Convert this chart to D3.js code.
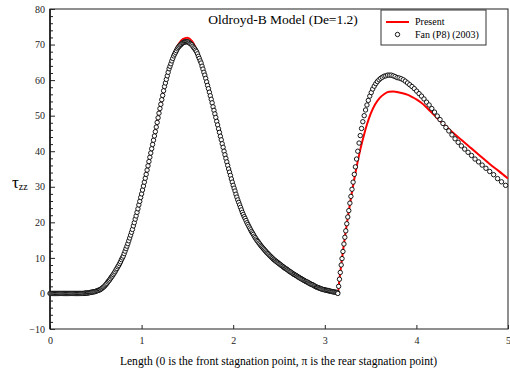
<!DOCTYPE html>
<html>
<head>
<meta charset="utf-8">
<script src="https://cdn.jsdelivr.net/npm/d3@7/dist/d3.min.js"></script>
<style>
  html, body { margin: 0; padding: 0; background: #fff; }
  svg { display: block; font-family: "Liberation Serif", "Times New Roman", serif; }
</style>
</head>
<body>
<svg id="chart" width="510" height="374"></svg>
<script>
// Axis ticks
const xTicks = [0, 1, 2, 3, 4, 5];
const yTicks = [-10, 0, 10, 20, 30, 40, 50, 60, 70, 80];
const yMinorTicks = [-8, -6, -4, -2, 2, 4, 6, 8, 12, 14, 16, 18, 22, 24, 26, 28, 32, 34, 36, 38,
  42, 44, 46, 48, 52, 54, 56, 58, 62, 64, 66, 68, 72, 74, 76, 78];

// Fan (P8) (2003): nodes on the cylinder surface (0 .. pi)
const fanCylX = [
  0.00,0.01,0.02,0.03,0.04,0.05,0.06,0.07,0.08,0.09,
  0.10,0.11,0.12,0.13,0.14,0.15,0.16,0.17,0.18,0.19,
  0.20,0.21,0.22,0.23,0.24,0.25,0.26,0.27,0.28,0.29,
  0.30,0.31,0.32,0.33,0.34,0.35,0.36,0.37,0.38,0.39,
  0.40,0.41,0.42,0.43,0.44,0.45,0.46,0.47,0.48,0.49,
  0.50,0.51,0.52,0.53,0.54,0.55,0.56,0.57,0.58,0.59,
  0.60,0.61,0.62,0.63,0.64,0.65,0.66,0.67,0.68,0.69,
  0.70,0.71,0.72,0.73,0.74,0.75,0.76,0.77,0.78,0.79,
  0.80,0.81,0.82,0.83,0.84,0.85,0.86,0.87,0.88,0.89,
  0.90,0.91,0.92,0.93,0.94,0.95,0.96,0.97,0.98,0.99,
  1.00,1.01,1.02,1.03,1.04,1.05,1.06,1.07,1.08,1.09,
  1.10,1.11,1.12,1.13,1.14,1.15,1.16,1.17,1.18,1.19,
  1.20,1.21,1.22,1.23,1.24,1.25,1.26,1.27,1.28,1.29,
  1.30,1.31,1.32,1.33,1.34,1.35,1.36,1.37,1.38,1.39,
  1.40,1.41,1.42,1.43,1.44,1.45,1.46,1.47,1.48,1.49,
  1.50,1.51,1.52,1.53,1.54,1.55,1.56,1.57,1.58,1.59,
  1.60,1.61,1.62,1.63,1.64,1.65,1.66,1.67,1.68,1.69,
  1.70,1.71,1.72,1.73,1.74,1.75,1.76,1.77,1.78,1.79,
  1.80,1.81,1.82,1.83,1.84,1.85,1.86,1.87,1.88,1.89,
  1.90,1.91,1.92,1.93,1.94,1.95,1.96,1.97,1.98,1.99,
  2.00,2.01,2.02,2.03,2.04,2.05,2.06,2.07,2.08,2.09,
  2.10,2.11,2.12,2.13,2.14,2.15,2.16,2.17,2.18,2.19,
  2.20,2.21,2.22,2.23,2.24,2.25,2.26,2.27,2.28,2.29,
  2.30,2.31,2.32,2.33,2.34,2.35,2.36,2.37,2.38,2.39,
  2.40,2.41,2.42,2.43,2.44,2.45,2.46,2.47,2.48,2.49,
  2.50,2.51,2.52,2.53,2.54,2.55,2.56,2.57,2.58,2.59,
  2.60,2.61,2.62,2.63,2.64,2.65,2.66,2.67,2.68,2.69,
  2.70,2.71,2.72,2.73,2.74,2.75,2.76,2.77,2.78,2.79,
  2.80,2.81,2.82,2.83,2.84,2.85,2.86,2.87,2.88,2.89,
  2.90,2.91,2.92,2.93,2.94,2.95,2.96,2.97,2.98,2.99,
  3.00,3.01,3.02,3.03,3.04,3.05,3.06,3.07,3.08,3.09,
  3.10,3.11,3.12,3.13,3.14
];
const fanCylTau = [
  0,0,0,0,0,0,0,0,0,0,
  0,0,0,0,0,0,0,0,0,0,
  0,0,0,0,0,0,0,0,0,0,
  0,0,0,0,0,0,0,0,0.1,0.1,
  0.1,0.1,0.2,0.2,0.3,0.3,0.4,0.4,0.5,0.5,
  0.6,0.7,0.8,0.9,1.0,1.1,1.3,1.5,1.7,1.9,
  2.2,2.5,2.8,3.2,3.5,3.8,4.2,4.6,4.9,5.3,
  5.7,6.1,6.6,7.0,7.5,7.9,8.4,8.9,9.5,10.0,
  10.5,11.2,11.9,12.6,13.3,14.0,14.8,15.6,16.4,17.2,
  18.0,19.0,19.9,20.9,21.8,22.8,23.8,24.9,25.9,27.0,
  28.0,29.1,30.2,31.3,32.4,33.5,34.7,35.9,37.1,38.3,
  39.5,40.7,41.9,43.1,44.3,45.5,46.8,48.1,49.4,50.7,
  52.0,53.2,54.5,55.7,57.0,58.2,59.2,60.2,61.2,62.2,
  63.2,63.9,64.6,65.4,66.1,66.8,67.3,67.8,68.3,68.8,
  69.2,69.5,69.8,70.0,70.3,70.5,70.6,70.7,70.8,70.8,
  70.8,70.7,70.5,70.3,70.1,69.9,69.5,69.1,68.8,68.4,
  68.0,67.4,66.7,66.1,65.4,64.8,63.9,63.1,62.2,61.4,
  60.5,59.5,58.5,57.6,56.6,55.6,54.6,53.6,52.5,51.5,
  50.5,49.5,48.4,47.4,46.3,45.3,44.2,43.2,42.1,41.1,
  40.0,39.0,38.0,37.0,36.0,35.0,34.1,33.2,32.2,31.3,
  30.4,29.6,28.8,27.9,27.1,26.3,25.6,24.9,24.2,23.5,
  22.8,22.2,21.6,21.1,20.5,19.9,19.4,18.9,18.4,17.9,
  17.4,17.0,16.6,16.1,15.7,15.3,14.9,14.6,14.2,13.9,
  13.5,13.2,12.9,12.6,12.3,12.0,11.7,11.4,11.2,10.9,
  10.6,10.4,10.1,9.9,9.6,9.4,9.2,9.0,8.8,8.6,
  8.4,8.2,8.0,7.8,7.6,7.4,7.2,7.0,6.9,6.7,
  6.5,6.3,6.1,6.0,5.8,5.6,5.4,5.3,5.1,5.0,
  4.8,4.6,4.5,4.3,4.2,4.0,3.9,3.7,3.6,3.4,
  3.3,3.2,3.0,2.9,2.7,2.6,2.5,2.4,2.2,2.1,
  1.9,1.8,1.7,1.6,1.5,1.4,1.3,1.2,1.1,1.1,
  1.0,0.9,0.9,0.8,0.8,0.7,0.6,0.6,0.5,0.5,
  0.4,0.4,0.3,0.3,0.2
];

// Fan (P8) (2003): nodes along the wake centreline (pi .. 5)
const fanWakeX = [
  3.142,3.151,3.160,3.169,3.179,3.188,3.198,3.209,3.219,3.229,
  3.240,3.251,3.262,3.274,3.285,3.297,3.309,3.322,3.334,3.347,
  3.360,3.374,3.387,3.401,3.415,3.430,3.445,3.460,3.475,3.491,
  3.507,3.523,3.540,3.557,3.574,3.592,3.610,3.628,3.647,3.666,
  3.685,3.705,3.725,3.746,3.767,3.789,3.811,3.833,3.856,3.879,
  3.903,3.927,3.952,3.977,4.003,4.029,4.056,4.083,4.111,4.139,
  4.168,4.198,4.228,4.258,4.290,4.322,4.354,4.388,4.422,4.456,
  4.491,4.527,4.564,4.602,4.640,4.679,4.718,4.759,4.800,4.843,
  4.886,4.929,4.974
];
const fanWakeTau = [
  0.0,2.0,4.0,5.9,8.0,9.8,11.8,13.9,15.8,17.6,
  19.6,21.5,23.3,25.4,27.3,29.3,31.3,33.5,35.6,37.8,
  40.0,42.3,44.4,46.4,48.3,50.0,51.6,53.0,54.3,55.5,
  56.5,57.5,58.3,59.0,59.6,60.1,60.5,60.8,61.1,61.2,
  61.4,61.4,61.4,61.2,61.0,60.7,60.6,60.4,60.1,59.7,
  59.2,58.7,58.2,57.6,56.9,56.2,55.5,54.7,53.8,53.0,
  52.0,51.0,49.9,48.9,47.8,46.7,45.7,44.6,43.5,42.5,
  41.5,40.6,39.7,38.8,37.8,37.0,36.1,35.2,34.3,33.4,
  32.3,31.4,30.4
];

// Present solution, cylinder surface
const presentCylX = [0, 0.1, 0.2, 0.3, 0.35, 0.4, 0.45, 0.5, 0.55, 0.6, 0.65, 0.7, 0.75, 0.8, 0.85,
  0.9, 0.95, 1.0, 1.05, 1.1, 1.15, 1.2, 1.25, 1.3, 1.35, 1.4, 1.45, 1.5, 1.55, 1.6, 1.65, 1.7,
  1.75, 1.8, 1.85, 1.9, 1.95, 2.0, 2.05, 2.1, 2.15, 2.2, 2.3, 2.4, 2.5, 2.6, 2.7, 2.8, 2.9,
  3.0, 3.1, 3.14];
const presentCylTau = [0, 0, 0, 0, 0, 0.1, 0.3, 0.6, 1.1, 2.2, 3.8, 5.7, 7.9, 10.5, 14.0,
  18.0, 22.8, 28.0, 33.5, 39.5, 45.5, 52.0, 58.3, 63.5, 67.4, 70.0, 71.5, 71.9, 71.0, 68.6, 65.1, 60.6,
  55.6, 50.5, 45.3, 40.0, 35.0, 30.4, 26.3, 22.8, 19.9, 17.4, 13.5, 10.6, 8.4, 6.5, 4.8, 3.3, 1.9,
  1.0, 0.4, 0.2];

// Present solution, wake centreline
const presentWakeX = [3.142, 3.16, 3.18, 3.2, 3.22, 3.24, 3.26, 3.28, 3.3, 3.32, 3.34, 3.36, 3.38, 3.4,
  3.43, 3.46, 3.5, 3.55, 3.6, 3.65, 3.7, 3.75, 3.8, 3.85, 3.9, 3.95, 4.0, 4.05, 4.1, 4.15, 4.2, 4.25, 4.3,
  4.4, 4.5, 4.6, 4.7, 4.8, 4.9, 5.0];
const presentWakeTau = [0, 4.0, 8.2, 12.2, 16.0, 19.5, 22.8, 26.0, 29.0, 31.9, 34.6, 37.2, 39.6, 41.8,
  44.8, 47.5, 50.5, 53.2, 55.0, 56.1, 56.7, 56.8, 56.6, 56.3, 55.9, 55.3, 54.6, 53.7, 52.6, 51.3, 50.0, 48.7, 47.5,
  45.2, 43.0, 40.8, 38.6, 36.4, 34.4, 32.3];

const seriesNames = ["Present", "Fan (P8) (2003)"];
const titleText = "Oldroyd-B Model (De=1.2)";
const xTitle = "Length (0 is the front stagnation point, \u03C0 is the rear stagnation point)";

const FONT = "'Liberation Serif', 'Times New Roman', serif";
const svg = d3.select("#chart");

const x = d3.scaleLinear().domain([0, 5]).range([50, 508]);
const y = d3.scaleLinear().domain([-10, 80]).range([329, 9]);

svg.append("defs").append("clipPath").attr("id", "plot-clip")
  .append("rect")
  .attr("x", x(0)).attr("y", y(80))
  .attr("width", x(5) - x(0)).attr("height", y(-10) - y(80));

// Y axis: major ticks with labels, minor ticks every 2
const gy = svg.append("g").attr("transform", `translate(${x(0)},0)`)
  .call(d3.axisLeft(y).tickValues(yTicks).tickSize(-5).tickSizeOuter(0).tickPadding(5));
gy.select(".domain").remove();
gy.attr("font-family", FONT).attr("font-size", 10).attr("color", "#222");

const gyMinor = svg.append("g").attr("transform", `translate(${x(0)},0)`)
  .call(d3.axisLeft(y).tickValues(yMinorTicks).tickSize(-3).tickSizeOuter(0).tickFormat(""));
gyMinor.select(".domain").remove();
gyMinor.attr("color", "#222");

// X axis
const gx = svg.append("g").attr("transform", `translate(0,${y(-10)})`)
  .call(d3.axisBottom(x).tickValues(xTicks).tickSize(-4).tickSizeOuter(0).tickPadding(8)
    .tickFormat(d3.format("d")));
gx.select(".domain").remove();
gx.attr("font-family", FONT).attr("font-size", 10).attr("color", "#222");

// Plot frame
svg.append("rect")
  .attr("x", x(0)).attr("y", y(80))
  .attr("width", x(5) - x(0)).attr("height", y(-10) - y(80))
  .attr("fill", "none").attr("stroke", "#333").attr("stroke-width", 1.1);
svg.append("line")
  .attr("x1", x(0)).attr("x2", x(0)).attr("y1", y(80)).attr("y2", y(-10))
  .attr("stroke", "#111").attr("stroke-width", 1.5);

// Present: red curve
const line = d3.line().x(d => x(d[0])).y(d => y(d[1])).curve(d3.curveMonotoneX);
const presentData = d3.zip(presentCylX, presentCylTau).concat(d3.zip(presentWakeX, presentWakeTau));
svg.append("path")
  .datum(presentData)
  .attr("clip-path", "url(#plot-clip)")
  .attr("d", line)
  .attr("fill", "none").attr("stroke", "#ff0000").attr("stroke-width", 2);

// Fan (P8): open circles
const fanData = d3.zip(fanCylX, fanCylTau).concat(d3.zip(fanWakeX, fanWakeTau));
svg.append("g")
  .selectAll("circle")
  .data(fanData)
  .join("circle")
  .attr("cx", d => x(d[0])).attr("cy", d => y(d[1]))
  .attr("r", 2.2)
  .attr("fill", "#fff").attr("stroke", "#000").attr("stroke-width", 0.9);

// Title
svg.append("text")
  .attr("x", 283).attr("y", 24)
  .attr("text-anchor", "middle")
  .attr("font-family", FONT).attr("font-size", 13.5).attr("fill", "#000")
  .text(titleText);

// Legend
const lg = svg.append("g");
lg.append("rect")
  .attr("x", 381).attr("y", 10).attr("width", 105).attr("height", 35)
  .attr("fill", "#fff").attr("stroke", "#333").attr("stroke-width", 1);
lg.append("line")
  .attr("x1", 386).attr("x2", 409).attr("y1", 22).attr("y2", 22)
  .attr("stroke", "#ff0000").attr("stroke-width", 2);
lg.append("circle")
  .attr("cx", 397.5).attr("cy", 34.5).attr("r", 2.2)
  .attr("fill", "#fff").attr("stroke", "#000").attr("stroke-width", 0.9);
lg.selectAll("text.leg")
  .data(seriesNames)
  .join("text")
  .attr("class", "leg")
  .attr("x", 415).attr("y", (d, i) => 25 + i * 13)
  .attr("font-family", FONT).attr("font-size", 10).attr("fill", "#000")
  .text(d => d);

// Axis titles
svg.append("text")
  .attr("x", 278.5).attr("y", 365)
  .attr("text-anchor", "middle")
  .attr("font-family", FONT).attr("font-size", 11.6).attr("fill", "#000")
  .text(xTitle);

const yt = svg.append("text")
  .attr("x", 12).attr("y", 188)
  .attr("font-family", FONT).attr("fill", "#000");
yt.append("tspan").attr("font-size", 17).text("\u03C4");
yt.append("tspan").attr("font-size", 10).attr("dy", 2).text("zz");
</script>
</body>
</html>
